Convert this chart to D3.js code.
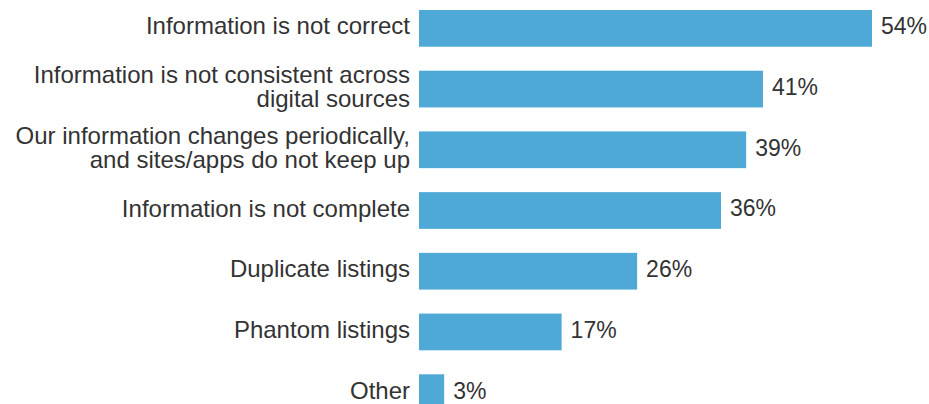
<!DOCTYPE html>
<html>
<head>
<meta charset="utf-8">
<script src="https://cdnjs.cloudflare.com/ajax/libs/d3/7.8.5/d3.min.js"></script>
<style>
  body { margin: 0; background: #fff; }
  svg { display: block; }
</style>
</head>
<body>
<script>
  // data
  const categories = [
    ['Information is not correct'],
    ['Information is not consistent across', 'digital sources'],
    ['Our information changes periodically,', 'and sites/apps do not keep up'],
    ['Information is not complete'],
    ['Duplicate listings'],
    ['Phantom listings'],
    ['Other'],
  ];
  const values = [54, 41, 39, 36, 26, 17, 3];

  const width = 929;
  const height = 404;
  const left = 419;
  const font = 'Liberation Sans, Arial, Helvetica, sans-serif';

  const svg = d3.select('body').append('svg').attr('width', width).attr('height', height);

  const rows = categories.map((c, i) => ({ id: i, lines: c, value: values[i] }));

  const x = d3.scaleLinear().domain([0, 54]).range([left, 872]);

  const y = d3
    .scaleBand()
    .domain(rows.map((d) => d.id))
    .range([-2, 423])
    .paddingInner(0.395)
    .paddingOuter(0.1975);

  // bars
  svg
    .append('g')
    .selectAll('rect')
    .data(rows)
    .enter()
    .append('rect')
    .attr('x', x(0))
    .attr('y', (d) => y(d.id))
    .attr('width', (d) => x(d.value) - x(0))
    .attr('height', y.bandwidth())
    .attr('fill', '#4fa9d6');

  // category labels
  const labels = svg
    .append('g')
    .attr('font-family', font)
    .attr('font-size', '24px')
    .attr('fill', '#333')
    .attr('text-anchor', 'end')
    .selectAll('text')
    .data(rows)
    .enter()
    .append('text')
    .attr('x', 410)
    .attr('y', (d) => y(d.id) + y.bandwidth() / 2);

  labels
    .selectAll('tspan')
    .data((d) => d.lines.map((t, i) => ({ t, i, n: d.lines.length })))
    .enter()
    .append('tspan')
    .attr('x', 410)
    .attr('dy', (d) => (d.i === 0 ? `${0.25 - (d.n - 1) * 0.5}em` : '1em'))
    .text((d) => d.t);

  // value labels
  svg
    .append('g')
    .selectAll('text')
    .data(rows)
    .enter()
    .append('text')
    .text((d) => d.value + '%')
    .attr('x', (d) => x(d.value) + 9)
    .attr('y', (d) => y(d.id) + y.bandwidth() / 2)
    .attr('dy', '0.26em')
    .attr('fill', '#333')
    .attr('font-family', font)
    .attr('font-size', '23px');
</script>
</body>
</html>
